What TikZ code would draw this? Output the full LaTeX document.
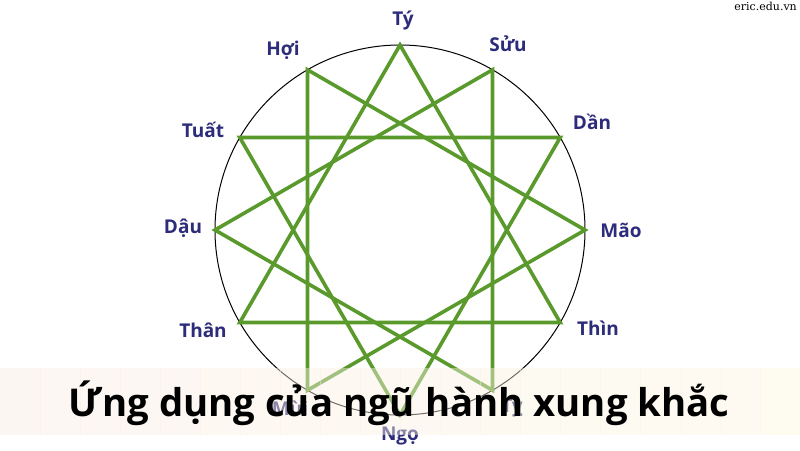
\documentclass[tikz,border=0pt]{standalone}
\usepackage{fontspec}
\setmainfont{Open Sans}
\newfontfamily\labfont{Open Sans}
\newfontfamily\wmfont{DejaVu Serif}
\usetikzlibrary{calc}
\definecolor{lineGreen}{HTML}{5A9A2C}
\definecolor{labBlue}{HTML}{2C2C7A}
\definecolor{bandL}{HTML}{FAEDE6}
\definecolor{bandR}{HTML}{FDF7E0}
\tikzset{
  lab/.style={font=\labfont\bfseries\fontsize{19}{21}\selectfont, text=labBlue, inner sep=0pt},
  tri/.style={draw=lineGreen, line width=3.6pt, line join=miter},
  rim/.style={draw=black, line width=1pt}
}
\begin{document}
\begin{tikzpicture}[x=1pt,y=-1pt]
\useasboundingbox[fill=white] (0,0) rectangle (800,450);
\coordinate (c) at (400,230);
\draw[rim] (c) circle (185);
\foreach \i/\a in {0/90,1/60,2/30,3/0,4/-30,5/-60,6/-90,7/-120,8/-150,9/180,10/150,11/120}{
  \coordinate (v\i) at ($(c)+({185*cos(\a)},{-185*sin(\a)})$);
}
\draw[tri] (v0) -- (v4) -- (v8) -- cycle;
\draw[tri] (v1) -- (v5) -- (v9) -- cycle;
\draw[tri] (v2) -- (v6) -- (v10) -- cycle;
\draw[tri] (v3) -- (v7) -- (v11) -- cycle;
\node[lab] (l0) at (403,21) {Tý};
\node[lab] (l1) at (508,44) {Sửu};
\node[lab] (l2) at (592,122) {Dần};
\node[lab] (l3) at (621,230) {Mão};
\node[lab] (l4) at (598,328) {Thìn};
\node[lab] (l5) at (512,408) {Tỵ};
\node[lab] (l6) at (400,436) {Ngọ};
\node[lab] (l7) at (290,408) {Mùi};
\node[lab] (l8) at (203,330) {Thân};
\node[lab] (l9) at (183,228) {Dậu};
\node[lab] (l10) at (203,130) {Tuất};
\node[lab] (l11) at (283,50) {Hợi};
\foreach \k in {0,...,19}{
  \pgfmathsetmacro{\pct}{100-\k*100/19}
  \fill[fill=bandL!\pct!bandR, fill opacity=0.45] (\k*40,368) rectangle (\k*40+40.5,435);
}
\node[font=\bfseries\fontsize{38.3}{42}\selectfont, inner sep=0pt, anchor=base] (title) at (399,416) {Ứng dụng của ngũ hành xung khắc};
\node[font=\wmfont\fontsize{11}{13}\selectfont, anchor=north east, inner sep=0pt] (wm) at (797,2) {eric.edu.vn};
\end{tikzpicture}
\end{document}
